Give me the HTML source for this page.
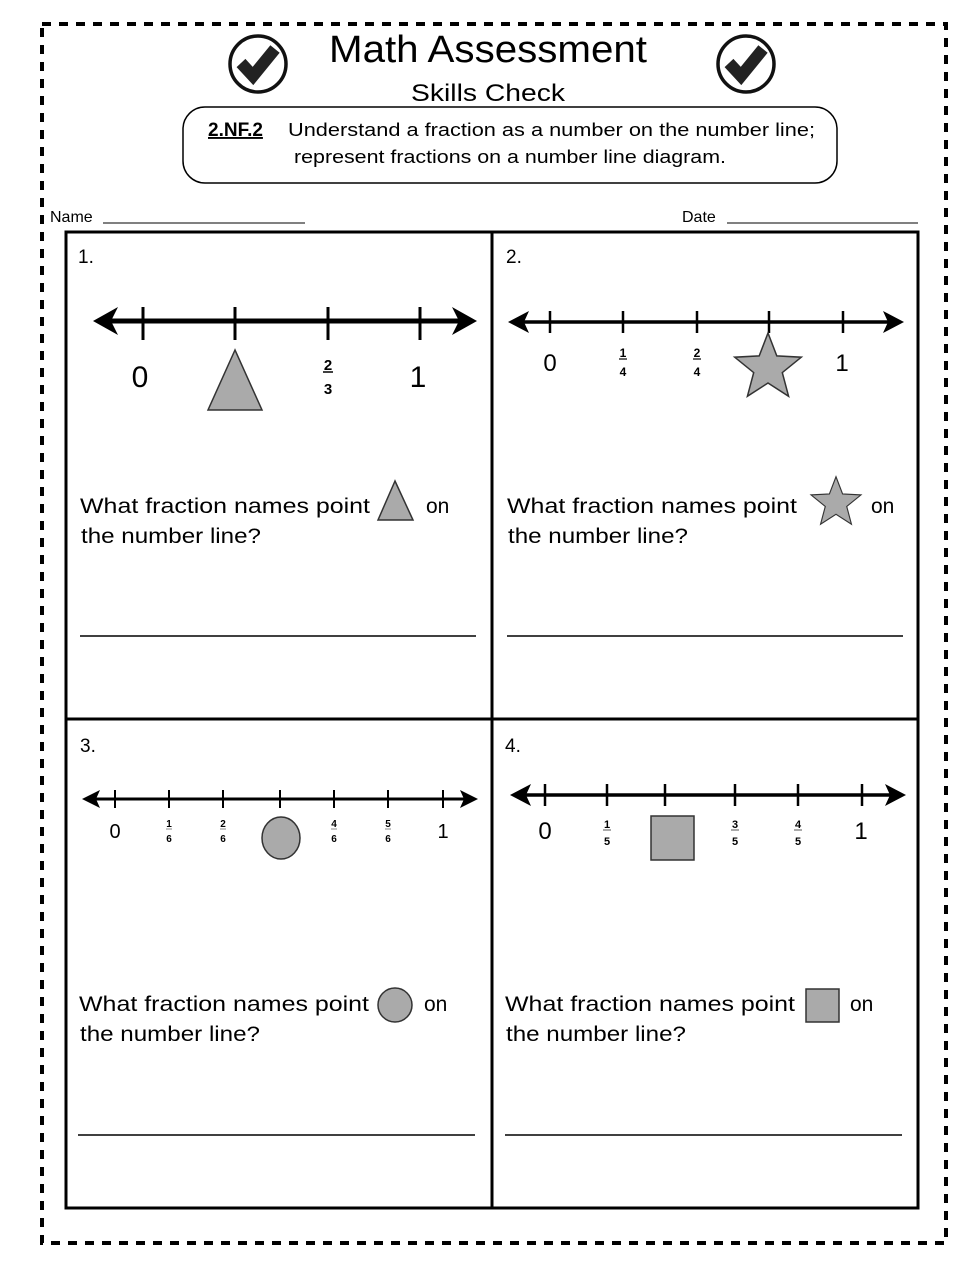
<!DOCTYPE html>
<html><head><meta charset="utf-8"><style>
html,body{margin:0;padding:0;background:#fff}
svg{display:block}
text{font-family:"Liberation Sans",sans-serif;fill:#000}
</style></head><body>
<svg width="979" height="1266" viewBox="0 0 979 1266" xmlns="http://www.w3.org/2000/svg">
<defs>
<polygon id="star" points="0,-35 8.8,-12.1 33.3,-10.8 14.3,4.6 20.6,28.3 0,15 -20.6,28.3 -14.3,4.6 -33.3,-10.8 -8.8,-12.1" fill="#aaa" stroke="#333" stroke-width="1.5"/>
</defs>
<rect x="42" y="24" width="904" height="1219" fill="none" stroke="#000" stroke-width="4" stroke-dasharray="9,8"/>
<g>
<circle cx="258" cy="64" r="28" fill="none" stroke="#111" stroke-width="3.5"/>
<path d="M241 63 L253 76 L275 49" fill="none" stroke="#222" stroke-width="12" stroke-linejoin="miter" stroke-linecap="butt"/>
<circle cx="746" cy="64" r="28" fill="none" stroke="#111" stroke-width="3.5"/>
<path d="M729 63 L741 76 L763 49" fill="none" stroke="#222" stroke-width="12" stroke-linejoin="miter" stroke-linecap="butt"/>
</g>
<text x="488" y="62" font-size="38" text-anchor="middle" textLength="318" lengthAdjust="spacingAndGlyphs">Math Assessment</text>
<text x="488" y="101" font-size="24" text-anchor="middle" textLength="154" lengthAdjust="spacingAndGlyphs">Skills Check</text>
<rect x="183" y="107" width="654" height="76" rx="22" fill="none" stroke="#000" stroke-width="1.5"/>
<text x="208" y="136" font-size="19" font-weight="bold" text-decoration="underline">2.NF.2</text>
<text x="288" y="136" font-size="18" textLength="527" lengthAdjust="spacingAndGlyphs" fill="#222">Understand a fraction as a number on the number line;</text>
<text x="510" y="163" font-size="18" text-anchor="middle" textLength="432" lengthAdjust="spacingAndGlyphs" fill="#222">represent fractions on a number line diagram.</text>
<text x="50" y="222" font-size="16">Name</text>
<line x1="103" y1="223" x2="305" y2="223" stroke="#000" stroke-width="1"/>
<text x="682" y="222" font-size="16">Date</text>
<line x1="727" y1="223" x2="918" y2="223" stroke="#000" stroke-width="1"/>
<rect x="66" y="232" width="852" height="976" fill="none" stroke="#000" stroke-width="3"/>
<line x1="492" y1="232" x2="492" y2="1208" stroke="#000" stroke-width="3"/>
<line x1="66" y1="719" x2="918" y2="719" stroke="#000" stroke-width="3"/>
<text x="78" y="263" font-size="19">1.</text>
<text x="506" y="263" font-size="19">2.</text>
<text x="80" y="752" font-size="19">3.</text>
<text x="505" y="752" font-size="19">4.</text>

<line x1="105" y1="321" x2="465" y2="321" stroke="#000" stroke-width="5"/>
<polygon points="93,321 118,307 111,321 118,335" fill="#000"/>
<polygon points="477,321 452,307 459,321 452,335" fill="#000"/>
<g stroke="#000" stroke-width="3"><line x1="143" y1="307" x2="143" y2="340"/><line x1="235" y1="307" x2="235" y2="340"/><line x1="328" y1="307" x2="328" y2="340"/><line x1="420" y1="307" x2="420" y2="340"/></g>
<text x="140" y="387" font-size="30" text-anchor="middle">0</text>
<text x="418" y="387" font-size="30" text-anchor="middle">1</text>
<text x="328" y="370" font-size="15" font-weight="bold" text-anchor="middle">2</text>
<line x1="323" y1="372" x2="333" y2="372" stroke="#000" stroke-width="1.5"/>
<text x="328" y="394" font-size="15" font-weight="bold" text-anchor="middle">3</text>
<polygon points="235,350 208,410 262,410" fill="#aaa" stroke="#333" stroke-width="1.5"/>
<text x="80" y="513" font-size="21" textLength="290" lengthAdjust="spacingAndGlyphs">What fraction names point</text>
<polygon points="395,481 378,520 413,520" fill="#aaa" stroke="#333" stroke-width="1.5"/>
<text x="426" y="513" font-size="21">on</text>
<text x="81" y="543" font-size="21" textLength="180" lengthAdjust="spacingAndGlyphs">the number line?</text>
<line x1="80" y1="636" x2="476" y2="636" stroke="#000" stroke-width="1.5"/>

<line x1="518" y1="322" x2="895" y2="322" stroke="#000" stroke-width="3.5"/>
<polygon points="508,322 529,311 524,322 529,333" fill="#000"/>
<polygon points="904,322 883,311 888,322 883,333" fill="#000"/>
<g stroke="#000" stroke-width="2.5"><line x1="550" y1="311" x2="550" y2="333"/><line x1="623" y1="311" x2="623" y2="333"/><line x1="697" y1="311" x2="697" y2="333"/><line x1="769" y1="311" x2="769" y2="333"/><line x1="843" y1="311" x2="843" y2="333"/></g>
<text x="550" y="371" font-size="24" text-anchor="middle">0</text>
<text x="842" y="371" font-size="24" text-anchor="middle">1</text>
<text x="623" y="357" font-size="12" font-weight="bold" text-anchor="middle">1</text>
<line x1="619" y1="359" x2="627" y2="359" stroke="#000" stroke-width="1.2"/>
<text x="623" y="376" font-size="12" font-weight="bold" text-anchor="middle">4</text>
<text x="697" y="357" font-size="12" font-weight="bold" text-anchor="middle">2</text>
<line x1="693" y1="359" x2="701" y2="359" stroke="#000" stroke-width="1.2"/>
<text x="697" y="376" font-size="12" font-weight="bold" text-anchor="middle">4</text>
<use href="#star" transform="translate(768,368)"/>
<text x="507" y="513" font-size="21" textLength="290" lengthAdjust="spacingAndGlyphs">What fraction names point</text>
<use href="#star" transform="translate(836,503) scale(0.75)"/>
<text x="871" y="513" font-size="21">on</text>
<text x="508" y="543" font-size="21" textLength="180" lengthAdjust="spacingAndGlyphs">the number line?</text>
<line x1="507" y1="636" x2="903" y2="636" stroke="#000" stroke-width="1.5"/>

<line x1="92" y1="799" x2="468" y2="799" stroke="#000" stroke-width="3"/>
<polygon points="82,799 100,790 96,799 100,808" fill="#000"/>
<polygon points="478,799 460,790 464,799 460,808" fill="#000"/>
<g stroke="#000" stroke-width="2"><line x1="115" y1="790" x2="115" y2="808"/><line x1="169" y1="790" x2="169" y2="808"/><line x1="223" y1="790" x2="223" y2="808"/><line x1="280" y1="790" x2="280" y2="808"/><line x1="334" y1="790" x2="334" y2="808"/><line x1="388" y1="790" x2="388" y2="808"/><line x1="443" y1="790" x2="443" y2="808"/></g>
<text x="115" y="838" font-size="20" text-anchor="middle">0</text>
<text x="443" y="838" font-size="20" text-anchor="middle">1</text>
<g font-size="10" font-weight="bold" text-anchor="middle">
<text x="169" y="827">1</text><text x="169" y="842">6</text>
<text x="223" y="827">2</text><text x="223" y="842">6</text>
<text x="334" y="827">4</text><text x="334" y="842">6</text>
<text x="388" y="827">5</text><text x="388" y="842">6</text>
</g>
<g stroke="#888" stroke-width="1"><line x1="166" y1="829" x2="172" y2="829"/><line x1="220" y1="829" x2="226" y2="829"/><line x1="331" y1="829" x2="337" y2="829"/><line x1="385" y1="829" x2="391" y2="829"/></g>
<ellipse cx="281" cy="838" rx="19" ry="21" fill="#aaa" stroke="#333" stroke-width="1.5"/>
<text x="79" y="1011" font-size="21" textLength="290" lengthAdjust="spacingAndGlyphs">What fraction names point</text>
<circle cx="395" cy="1005" r="17" fill="#aaa" stroke="#333" stroke-width="1.5"/>
<text x="424" y="1011" font-size="21">on</text>
<text x="80" y="1041" font-size="21" textLength="180" lengthAdjust="spacingAndGlyphs">the number line?</text>
<line x1="78" y1="1135" x2="475" y2="1135" stroke="#000" stroke-width="1.5"/>

<line x1="520" y1="795" x2="896" y2="795" stroke="#000" stroke-width="3.5"/>
<polygon points="510,795 531,784 526,795 531,806" fill="#000"/>
<polygon points="906,795 885,784 890,795 885,806" fill="#000"/>
<g stroke="#000" stroke-width="2.5"><line x1="545" y1="784" x2="545" y2="806"/><line x1="607" y1="784" x2="607" y2="806"/><line x1="665" y1="784" x2="665" y2="806"/><line x1="735" y1="784" x2="735" y2="806"/><line x1="798" y1="784" x2="798" y2="806"/><line x1="862" y1="784" x2="862" y2="806"/></g>
<text x="545" y="839" font-size="24" text-anchor="middle">0</text>
<text x="861" y="839" font-size="24" text-anchor="middle">1</text>
<g font-size="11" font-weight="bold" text-anchor="middle">
<text x="607" y="828">1</text><text x="607" y="845">5</text>
<text x="735" y="828">3</text><text x="735" y="845">5</text>
<text x="798" y="828">4</text><text x="798" y="845">5</text>
</g>
<g stroke="#555" stroke-width="1"><line x1="603" y1="830" x2="611" y2="830"/><line x1="731" y1="830" x2="739" y2="830"/><line x1="794" y1="830" x2="802" y2="830"/></g>
<rect x="651" y="816" width="43" height="44" fill="#aaa" stroke="#333" stroke-width="1.5"/>
<text x="505" y="1011" font-size="21" textLength="290" lengthAdjust="spacingAndGlyphs">What fraction names point</text>
<rect x="806" y="989" width="33" height="33" fill="#aaa" stroke="#333" stroke-width="1.5"/>
<text x="850" y="1011" font-size="21">on</text>
<text x="506" y="1041" font-size="21" textLength="180" lengthAdjust="spacingAndGlyphs">the number line?</text>
<line x1="505" y1="1135" x2="902" y2="1135" stroke="#000" stroke-width="1.5"/>
</svg>
</body></html>
